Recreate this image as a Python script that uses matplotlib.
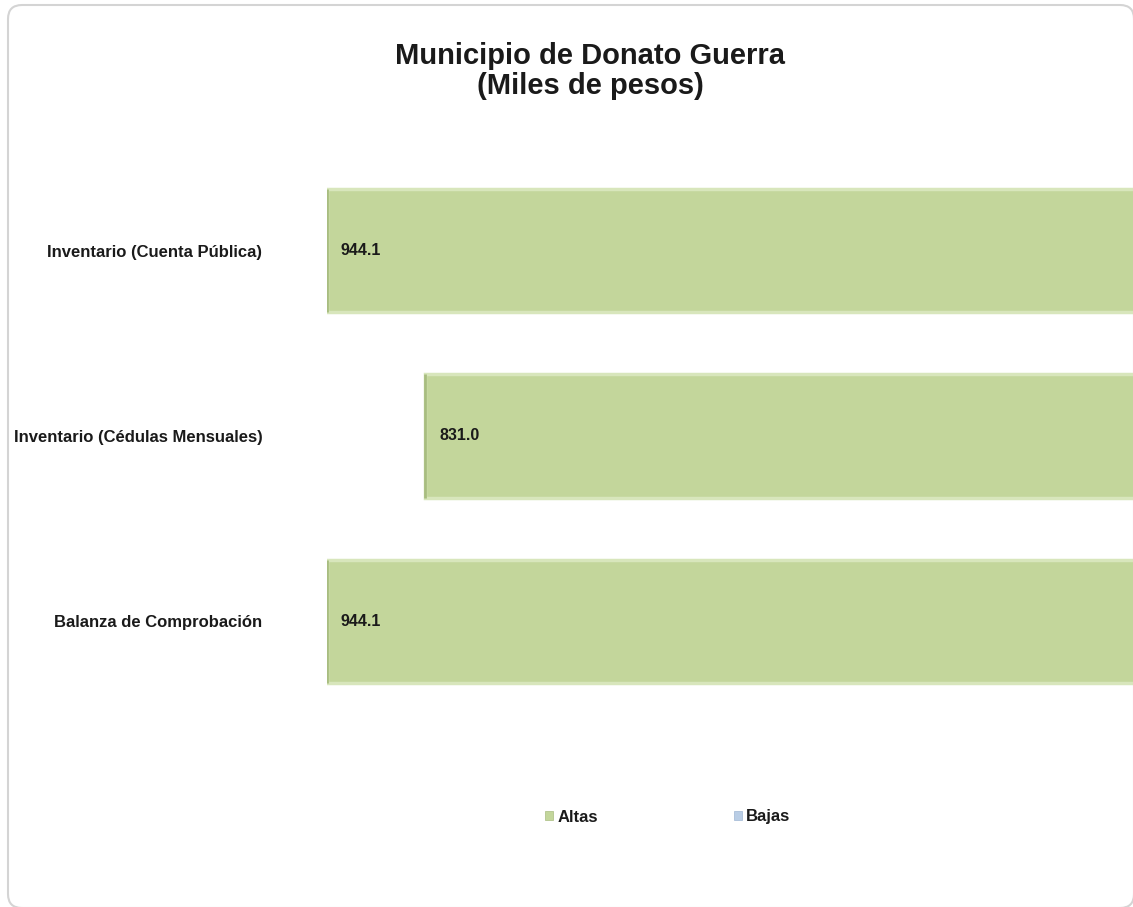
import matplotlib
matplotlib.use("Agg")
import matplotlib.pyplot as plt
from matplotlib.patches import FancyBboxPatch, Patch
from matplotlib.transforms import IdentityTransform

categories = ["Inventario (Cuenta Pública)", "Inventario (Cédulas Mensuales)", "Balanza de Comprobación"]
altas = [944.1, 831.0, 944.1]
bajas = [0.0, 0.0, 0.0]
labels = ["944.1", "831.0", "944.1"]
title = "Municipio de Donato Guerra\n(Miles de pesos)"
series_names = ["Altas", "Bajas"]

plt.rcParams['font.family'] = ['Liberation Sans', 'DejaVu Sans']

W, H = 1133, 907
fig = plt.figure(figsize=(W / 100, H / 100), dpi=100)
fig.patch.set_facecolor("white")

# rounded border of the chart area (pixel coordinates, origin bottom-left)
border = FancyBboxPatch((8, -1), 1134 - 8, 902 + 1,
                        boxstyle="round,pad=0,rounding_size=14",
                        transform=IdentityTransform(), facecolor="none",
                        edgecolor="#d4d4d4", linewidth=1.5, zorder=-5)
fig.patches.append(border)

# plot area (origin of reversed value axis lies just beyond the right edge)
left_px, right_px = 327, 1148
top_px, bot_px = 158, 714
ax = fig.add_axes([left_px / W, 1 - bot_px / H, (right_px - left_px) / W, (bot_px - top_px) / H])
ax.set_facecolor("none")

green = "#c3d69b"
blue = "#b9cde5"
ypos = list(range(len(categories)))
bh = 0.665
ax.barh(ypos, altas, height=bh, color=green, edgecolor="#d8e6bc", linewidth=2.5, zorder=2)
ax.barh(ypos, bajas, left=altas, height=bh, color=blue, linewidth=0, zorder=2)
# darker left edge line of each bar
for y, v in zip(ypos, altas):
    ax.plot([v, v], [y - bh / 2, y + bh / 2], color="#a8bd80", linewidth=2, zorder=3,
            solid_capstyle="butt")

for y, v, t in zip(ypos, altas, labels):
    ax.annotate(t, xy=(v, y), xytext=(10, 0), textcoords="offset points",
                ha="left", va="center", fontsize=11.5, fontweight="bold", color="#1a1a1a", zorder=4)

ax.set_xlim(max(altas), 0)
ax.set_ylim(len(categories) - 0.5, -0.5)
ax.set_yticks(ypos)
ax.set_yticklabels(categories, fontsize=12, fontweight="bold", color="#1a1a1a")
ax.tick_params(axis="y", length=0, pad=46.5)
ax.set_xticks([])
for s in ax.spines.values():
    s.set_visible(False)

fig.text(590 / W, 1 - 71 / H, title, ha="center", va="center", fontsize=21,
         fontweight="bold", color="#1a1a1a", linespacing=1.1)

handles = [Patch(facecolor=green, edgecolor="#a8bd80", linewidth=0.5),
           Patch(facecolor=blue, edgecolor="#9fb6d3", linewidth=0.5)]
leg = fig.legend(handles, series_names, loc="center", bbox_to_anchor=(667.5 / W, 1 - 817 / H),
                 ncol=2, frameon=False, handlelength=0.5, handleheight=0.5, handletextpad=0.25,
                 columnspacing=8.15, prop={"weight": "bold", "size": 12})
for t in leg.get_texts():
    t.set_color("#1a1a1a")

fig.savefig("out.png", dpi=100)
